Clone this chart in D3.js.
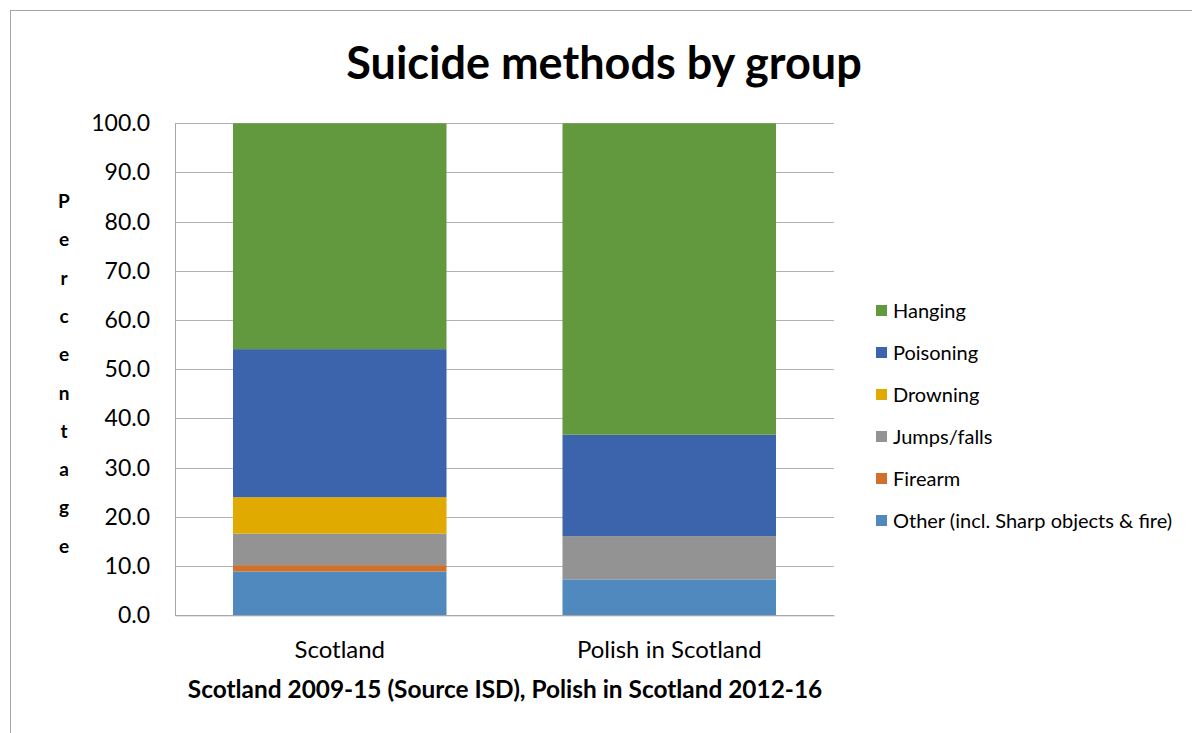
<!DOCTYPE html>
<html><head><meta charset="utf-8">
<script src="https://cdn.jsdelivr.net/npm/d3@7"></script>
<style>body{margin:0;background:#fff}svg{display:block}text{font-family:Lato,"Open Sans",sans-serif}</style>
</head><body><svg id="c" width="1192" height="733"></svg>
<script>
const categories = ["Scotland", "Polish in Scotland"];
const methods = ["Other (incl. Sharp objects & fire)", "Firearm", "Jumps/falls", "Drowning", "Poisoning", "Hanging"];
const colors = ["#4f89bd", "#d0702c", "#939393", "#e1aa00", "#3c64ad", "#62993e"];
const other = [8.9, 7.3];
const firearm = [1.3, 0.0];
const jumps = [6.4, 8.8];
const drowning = [7.4, 0.0];
const poisoning = [30.1, 20.6];
const hanging = [45.9, 63.3];
const yTicks = [0, 10, 20, 30, 40, 50, 60, 70, 80, 90, 100];

const series = [other, firearm, jumps, drowning, poisoning, hanging];
const rows = categories.map((c, i) => {
  const r = {cat: c};
  methods.forEach((m, j) => r[m] = series[j][i]);
  return r;
});
const stacked = d3.stack().keys(methods)(rows);

const svg = d3.select("#c");
svg.append("rect").attr("x", 10.5).attr("y", 10.5).attr("width", 1200).attr("height", 800)
  .attr("fill", "none").attr("stroke", "#a6a6a6");

const L = 175, R = 834, T = 123.3, B = 615.3;
const x = d3.scaleBand().domain(categories).range([L, R]).paddingInner(0.352).paddingOuter(0.176);
const y = d3.scaleLinear().domain([0, 100]).range([B, T]);

// gridlines
svg.append("g").selectAll("line").data(yTicks).join("line")
  .attr("x1", L).attr("x2", R).attr("y1", d => Math.round(y(d)) + 0.5).attr("y2", d => Math.round(y(d)) + 0.5)
  .attr("stroke", "#b3b3b3").attr("stroke-width", 1);

// bars
svg.append("g").selectAll("g").data(stacked).join("g")
  .attr("fill", (d, i) => colors[i])
  .selectAll("rect").data(d => d).join("rect")
  .attr("x", d => x(d.data.cat)).attr("width", x.bandwidth())
  .attr("y", d => y(d[1])).attr("height", d => y(d[0]) - y(d[1]));

// axes
const yAxis = d3.axisLeft(y).tickValues(yTicks).tickFormat(d3.format(".1f")).tickSize(0).tickPadding(25);
const gy = svg.append("g").attr("transform", `translate(${L},0)`).call(yAxis);
gy.select(".domain").attr("stroke", "#a6a6a6");
gy.selectAll("text").attr("font-size", 23).attr("fill", "#000").attr("font-family", "Lato");

const xAxis = d3.axisBottom(x).tickSize(0).tickPadding(26);
const gx = svg.append("g").attr("transform", `translate(0,${B})`).call(xAxis);
gx.select(".domain").attr("stroke", "#a6a6a6");
gx.selectAll("text").attr("font-size", 24).attr("fill", "#000").attr("font-family", "Lato");

// title
svg.append("text").attr("x", 604).attr("y", 79).attr("text-anchor", "middle")
  .attr("font-size", 45).attr("font-weight", "bold").text("Suicide methods by group");

// x title
svg.append("text").attr("x", 505).attr("y", 698).attr("text-anchor", "middle")
  .attr("font-size", 24.4).attr("font-weight", "bold").text("Scotland 2009-15 (Source ISD), Polish in Scotland 2012-16");

// y title stacked letters
const yt = svg.append("text").attr("font-size", 19).attr("font-weight", "bold").attr("text-anchor", "middle");
"Percentage".split("").forEach((ch, i) => {
  yt.append("tspan").attr("x", 64).attr("y", 208 + i * 38.3).text(ch);
});

// legend
const leg = svg.append("g").selectAll("g").data(methods.slice().reverse()).join("g")
  .attr("transform", (d, i) => `translate(876,${311 + i * 42})`);
leg.append("rect").attr("x", 0).attr("y", -6).attr("width", 11).attr("height", 11)
  .attr("fill", d => colors[methods.indexOf(d)]);
leg.append("text").attr("x", 17).attr("y", 7).attr("font-size", 20).text(d => d);
</script></body></html>
